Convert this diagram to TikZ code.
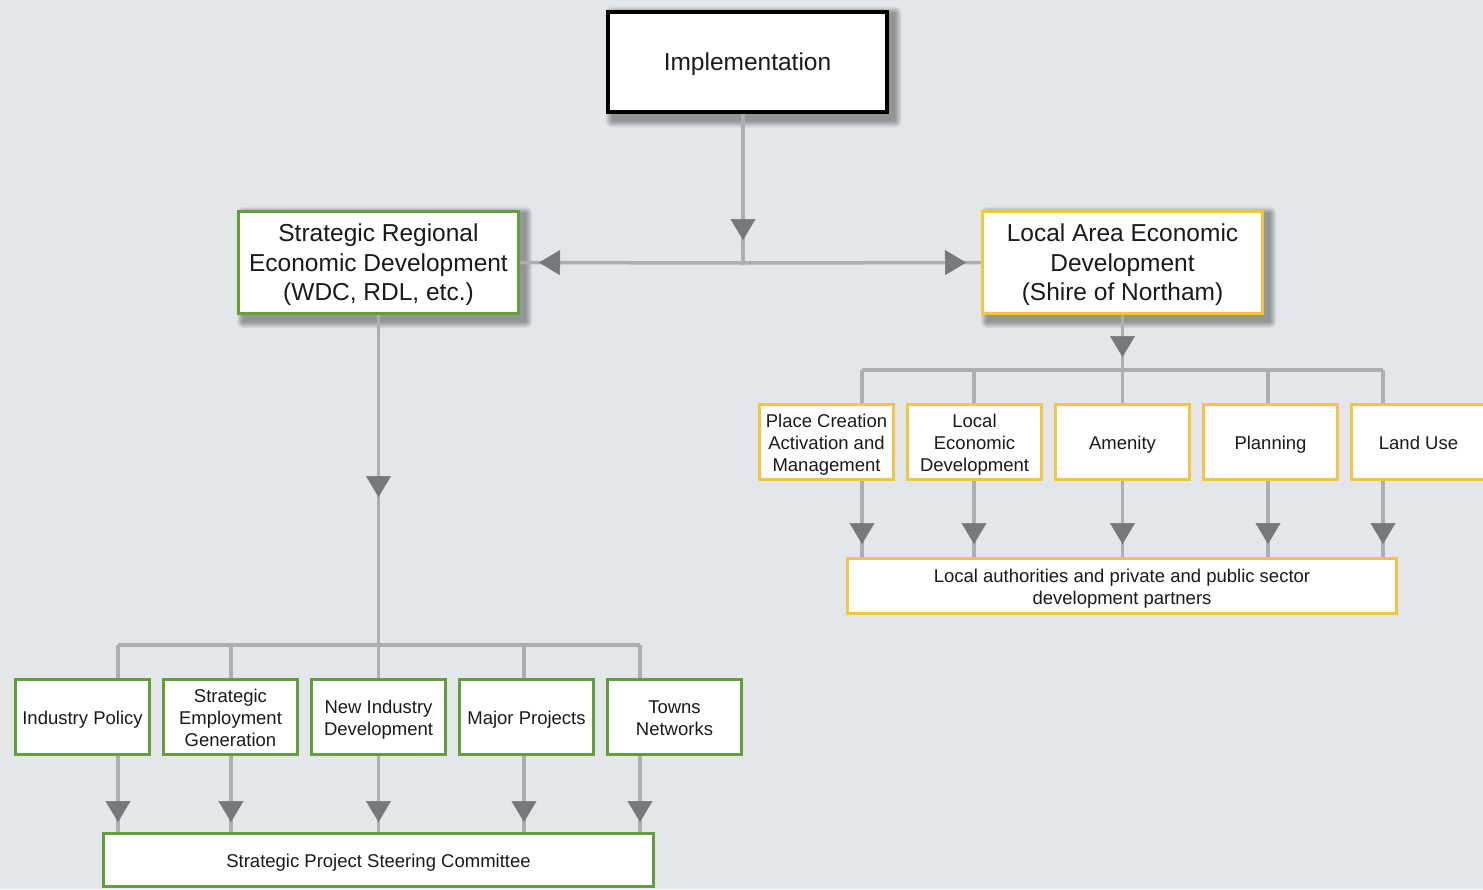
\documentclass[tikz,border=0pt]{standalone}
\usepackage{fontspec}
\setmainfont{Liberation Sans}
\usetikzlibrary{arrows.meta,decorations.markings}
\definecolor{bgcol}{RGB}{228,231,234}
\definecolor{linegray}{RGB}{172,174,177}
\definecolor{arrowgray}{RGB}{118,120,123}
\definecolor{boxgreen}{RGB}{98,158,58}
\definecolor{boxgold}{RGB}{245,196,66}
\definecolor{txt}{RGB}{26,26,26}
\pgfdeclarelayer{backl}
\pgfdeclarelayer{connl}
\pgfsetlayers{backl,connl,main}
\newcommand{\boxtext}[1]{\raisebox{\dimexpr-0.25em-3pt\relax}[0pt][0pt]{\begin{tabular}{@{}c@{}}#1\end{tabular}}}
\tikzset{
  conn/.style={draw=linegray,line width=3.5pt},
  tipat/.style={postaction={decorate},decoration={markings,
     mark=at position #1 with {\arrow{Triangle[width=25pt,length=21pt,color=arrowgray,fill=arrowgray,line width=0.5pt]}}}},
  bigfont/.style={font=\fontsize{24.5}{29.5}\selectfont},
  smallfont/.style={font=\fontsize{18.5}{22}\selectfont},
  basebox/.style={rectangle,fill=white,inner sep=0pt,text=txt},
  topbox/.style={basebox,draw=black,line width=4.5pt,minimum width=279pt,minimum height=100pt,bigfont},
  greenbig/.style={basebox,draw=boxgreen,line width=3pt,minimum width=280pt,minimum height=102pt,bigfont},
  goldbig/.style={basebox,draw=boxgold,line width=3pt,minimum width=280pt,minimum height=102pt,bigfont},
  greensmall/.style={basebox,draw=boxgreen,line width=3pt,minimum width=134pt,minimum height=75pt,smallfont},
  goldsmall/.style={basebox,draw=boxgold,line width=3pt,minimum width=134pt,minimum height=75pt,smallfont},
  softshadow/.style={fill=black,opacity=0.06},
}
\begin{document}
\begin{tikzpicture}[x=1pt,y=-1pt]
\useasboundingbox (0,0) rectangle (1483,889);
\begin{pgfonlayer}{backl}
\fill[bgcol] (0,0) rectangle (1483,889);
\end{pgfonlayer}

% nodes
\node[topbox] (impl) at (747.5,62) {\boxtext{Implementation}};
\node[greenbig] (sred) at (378.5,262.5) {\boxtext{Strategic Regional\\Economic Development\\(WDC, RDL, etc.)}};
\node[goldbig] (laed) at (1122.5,262.5) {\boxtext{Local Area Economic\\Development\\(Shire of Northam)}};

\node[greensmall] (ip) at (82.5,717) {\boxtext{Industry Policy}};
\node[greensmall] (seg) at (230.5,717) {\boxtext{Strategic\\Employment\\Generation}};
\node[greensmall] (nid) at (378.5,717) {\boxtext{New Industry\\Development}};
\node[greensmall] (mp) at (526.5,717) {\boxtext{Major Projects}};
\node[greensmall] (tn) at (674.5,717) {\boxtext{Towns\\Networks}};
\node[basebox,draw=boxgreen,line width=3pt,minimum width=550pt,minimum height=53pt,smallfont] (spsc) at (378.5,860) {\boxtext{Strategic Project Steering Committee}};

\node[goldsmall] (pc) at (826.5,442) {\boxtext{Place Creation\\Activation and\\Management}};
\node[goldsmall] (led) at (974.5,442) {\boxtext{Local\\Economic\\Development}};
\node[goldsmall] (am) at (1122.5,442) {\boxtext{Amenity}};
\node[goldsmall] (pl) at (1270.5,442) {\boxtext{Planning}};
\node[goldsmall] (lu) at (1418.5,442) {\boxtext{Land Use}};
\node[basebox,draw=boxgold,line width=3pt,minimum width=549pt,minimum height=55pt,smallfont] (part) at (1122,586) {\boxtext{Local authorities and private and public sector\\development partners}};

% soft shadows of the three main boxes
\begin{pgfonlayer}{backl}
\foreach \b in {impl,sred,laed}{
  \foreach \i in {0,...,6}{
    \fill[softshadow,rounded corners=\i pt]
      ([xshift=6pt-\i pt,yshift=-3pt+\i pt]\b.north west) rectangle ([xshift=6pt+\i pt,yshift=-7pt-\i pt]\b.south east);
  }
}
\end{pgfonlayer}

% junctions
\coordinate (j1) at (743,263);
\coordinate (j2) at (378.5,645);
\coordinate (j3) at (1122.5,370);
\coordinate (l1) at (118,645);
\coordinate (l2) at (231,645);
\coordinate (l3) at (378.5,645);
\coordinate (l4) at (524,645);
\coordinate (l5) at (640,645);
\coordinate (r1) at (862,370);
\coordinate (r2) at (974,370);
\coordinate (r3) at (1122.5,370);
\coordinate (r4) at (1268,370);
\coordinate (r5) at (1383,370);

\begin{pgfonlayer}{connl}
\draw[conn,tipat=-23pt] (impl.south -| j1) -- (j1);
\draw[conn,tipat=-19pt] (j1) -- (sred.east);
\draw[conn,tipat=-15pt] (j1) -- (laed.west);

\draw[conn,tipat=-148pt] (sred.south) -- (j2);
\draw[conn] (l1) -- (l5);
\foreach \c/\b in {l1/ip,l2/seg,l3/nid,l4/mp,l5/tn}{
  \draw[conn] (\c) -- (\c |- \b.north);
  \draw[conn,tipat=-10pt] (\c |- \b.south) -- (\c |- spsc.north);
}

\draw[conn,tipat=-13pt] (laed.south) -- (j3);
\draw[conn] (r1) -- (r5);
\foreach \c/\b in {r1/pc,r2/led,r3/am,r4/pl,r5/lu}{
  \draw[conn] (\c) -- (\c |- \b.north);
  \draw[conn,tipat=-13pt] (\c |- \b.south) -- (\c |- part.north);
}
\end{pgfonlayer}
\end{tikzpicture}
\end{document}
